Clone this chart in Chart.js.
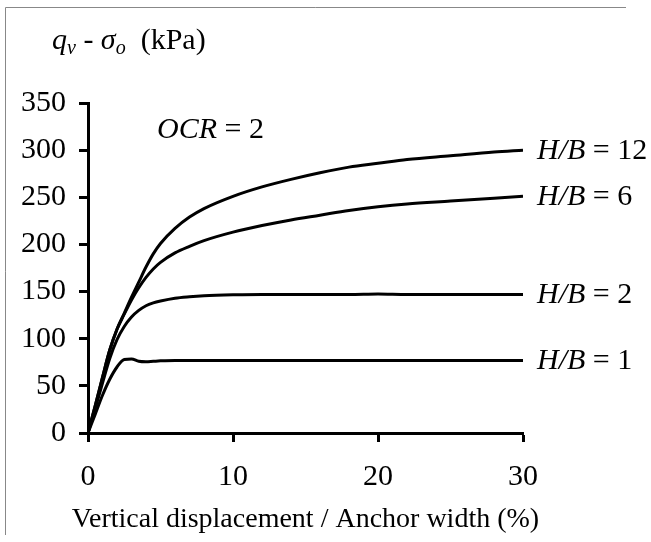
<!DOCTYPE html>
<html>
<head>
<meta charset="utf-8">
<script src="https://cdn.jsdelivr.net/npm/chart.js@4"></script>
<style>
  html, body { margin: 0; padding: 0; background: #fff; }
  canvas { display: block; }
</style>
</head>
<body>
<canvas id="upliftChart" width="651" height="542"></canvas>
<script>
// Displacement / anchor width (%)
const displacement = [0, 0.5, 1, 1.5, 2, 2.5, 3, 3.5, 4, 4.5, 5, 6, 7, 8, 10, 12, 14, 16, 18, 20, 22, 25, 28, 30];

// Net uplift pressure q_v - sigma_o (kPa) for each embedment ratio
const hbRatios = [1, 2, 6, 12];
const pressureHB1  = [0, 20, 40, 57, 70, 78, 78.5, 76, 75.5, 76, 76.5, 77, 77, 77, 77, 77, 77, 77, 77, 77, 77, 77, 77, 77];
const pressureHB2  = [0, 26, 53, 79, 99, 113, 123, 130, 135, 138, 140, 143, 144.5, 145.5, 146.5, 147, 147, 147, 147, 147.5, 147, 147, 147, 147];
const pressureHB6  = [0, 29, 59, 88, 110, 126, 141, 154, 165, 174, 181, 191, 198, 204, 213, 220, 226, 231, 236, 240, 243, 246, 249, 251];
const pressureHB12 = [0, 29, 59, 88, 110, 127, 144, 160, 176, 190, 201, 217, 229, 238, 251, 261, 269, 276, 282, 286, 290, 294, 298, 300];

const xTicks = [0, 10, 20, 30];
const yTicks = [0, 50, 100, 150, 200, 250, 300, 350];
const xTitle = "Vertical displacement / Anchor width (%)";

const FONT = "'Liberation Serif', 'Times New Roman', serif";
const FS = 30;

function toPoints(ys) {
  return displacement.map((x, i) => ({ x: x, y: ys[i] }));
}

const series = [pressureHB1, pressureHB2, pressureHB6, pressureHB12];

// draws mixed italic / upright text runs, returns end x
function drawRuns(ctx, runs, x, y) {
  runs.forEach(r => {
    ctx.font = (r.italic ? "italic " : "") + r.size + "px " + FONT;
    ctx.fillText(r.text, x, y + (r.dy || 0));
    x += ctx.measureText(r.text).width;
  });
  return x;
}

const annotations = {
  id: "annotations",
  afterDraw(chart) {
    const ctx = chart.ctx;
    const xs = chart.scales.x;
    const ys = chart.scales.y;
    const area = chart.chartArea;
    ctx.save();
    ctx.fillStyle = "#000";
    ctx.textBaseline = "alphabetic";

    // frame lines (top and left)
    ctx.strokeStyle = "#888";
    ctx.lineWidth = 1;
    ctx.beginPath();
    ctx.moveTo(5.5, 535);
    ctx.lineTo(5.5, 7.5);
    ctx.lineTo(626, 7.5);
    ctx.stroke();

    // y axis title
    drawRuns(ctx, [
      { text: "q", italic: true, size: FS },
      { text: "v", italic: true, size: 20, dy: 5 },
      { text: " - ", size: FS },
      { text: "σ", italic: true, size: FS },
      { text: "o", italic: true, size: 20, dy: 5 },
      { text: "  (kPa)", size: FS }
    ], 52, 49);

    // x axis title, centred under the plot
    ctx.font = "28px " + FONT;
    ctx.textAlign = "center";
    ctx.fillText(xTitle, (area.left + area.right) / 2, 527);
    ctx.textAlign = "left";

    // OCR note
    drawRuns(ctx, [
      { text: "OCR", italic: true, size: FS },
      { text: " = 2", size: FS }
    ], 157, 138);

    // curve labels at the end of each line
    ctx.textBaseline = "middle";
    chart.data.datasets.forEach((ds, i) => {
      const last = ds.data[ds.data.length - 1];
      const px = xs.getPixelForValue(last.x) + 14;
      const py = ys.getPixelForValue(last.y) + 1;
      drawRuns(ctx, [
        { text: "H/B", italic: true, size: FS },
        { text: " = " + hbRatios[i], size: FS }
      ], px, py);
    });
    ctx.restore();
  }
};

new Chart(document.getElementById("upliftChart"), {
  type: "line",
  data: {
    datasets: series.map((ys, i) => ({
      label: "H/B = " + hbRatios[i],
      data: toPoints(ys),
      borderColor: "#000",
      borderWidth: 3,
      pointRadius: 0,
      fill: false,
      cubicInterpolationMode: "monotone"
    }))
  },
  options: {
    responsive: false,
    animation: false,
    layout: { padding: { top: 103, right: 128, left: 0, bottom: 0 } },
    plugins: { legend: { display: false }, tooltip: { enabled: false } },
    scales: {
      x: {
        type: "linear",
        min: 0,
        max: 30,
        afterBuildTicks: s => { s.ticks = xTicks.map(v => ({ value: v })); },
        afterFit: s => { s.height = 109; },
        grid: { drawOnChartArea: false, drawTicks: true, tickLength: 9, tickWidth: 3, tickColor: "#000" },
        border: { color: "#000", width: 3 },
        ticks: { color: "#000", padding: 17, font: { family: FONT, size: FS } }
      },
      y: {
        type: "linear",
        min: 0,
        max: 350,
        afterBuildTicks: s => { s.ticks = yTicks.map(v => ({ value: v })); },
        afterFit: s => { s.width = 88; },
        grid: { drawOnChartArea: false, drawTicks: true, tickLength: 9, tickWidth: 3, tickColor: "#000" },
        border: { color: "#000", width: 3 },
        ticks: { color: "#000", padding: 13, font: { family: FONT, size: FS } }
      }
    }
  },
  plugins: [annotations]
});
</script>
</body>
</html>
